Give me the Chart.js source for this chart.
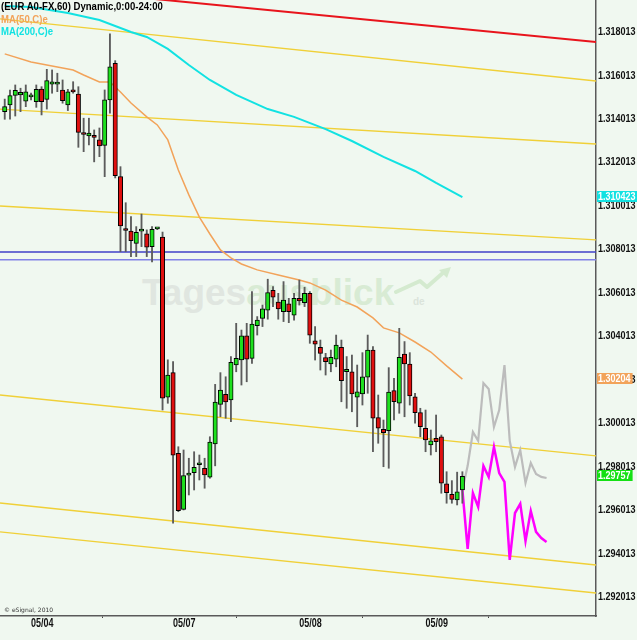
<!DOCTYPE html>
<html>
<head>
<meta charset="utf-8">
<title>EUR A0-FX,60</title>
<script src="https://cdn.jsdelivr.net/npm/chart.js@4.4.1/dist/chart.umd.min.js"></script>
<style>
  html, body { margin: 0; padding: 0; background: #f0f8f0; }
  .chart-wrap { position: relative; width: 637px; height: 640px; overflow: hidden; }
  .chart-wrap canvas { position: absolute; left: 0; top: 0; z-index: 1; }
  .watermark { position: absolute; left: 142px; top: 274px; z-index: 0; white-space: nowrap;
    font: bold 37px/37px "Liberation Sans", Arial, sans-serif; }
  .watermark__a { color: #e0e6e0; }
  .watermark__b { color: #d8ebd4; }
  .watermark__tld { position: absolute; left: 271px; top: 23px; color: #dbe4db;
    font: bold 10px/10px "Liberation Sans", Arial, sans-serif; }
  .watermark__arrow { position: absolute; left: 252px; top: -8px; }
  /* eSignal uses a narrow bold face; squeeze Liberation Sans to match */
  .caption { position: absolute; left: 1px; z-index: 2; white-space: nowrap;
    font: bold 11px/12px "Liberation Sans", Arial, sans-serif;
    transform: scaleX(0.87); transform-origin: 0 0; }
  .copyright { position: absolute; left: 4px; top: 606px; z-index: 2; color: #333;
    font: 6px/7px "DejaVu Sans", sans-serif; }
</style>
</head>
<body>
<div class="chart-wrap">
  <div class="watermark">
    <span class="watermark__a">Tages</span><span class="watermark__b">ausblick</span>
    <span class="watermark__tld">de</span>
    <svg class="watermark__arrow" width="60" height="32" viewBox="0 0 60 32">
      <polyline points="2,26 26,15 33,21 50,6" fill="none" stroke="#d4eacf" stroke-width="4" stroke-linecap="round" stroke-linejoin="round"/>
      <polygon points="57,1 45,4 53,12" fill="#d4eacf"/>
    </svg>
  </div>
  <canvas id="fx-chart" width="637" height="640"></canvas>
  <div class="caption" style="top:0;color:#000">(EUR A0-FX,60) Dynamic,0:00-24:00</div>
  <div class="caption" style="top:12.5px;color:#f2a35a">MA(50,C)e</div>
  <div class="caption" style="top:25px;color:#12e2e2">MA(200,C)e</div>
  <div class="copyright">© eSignal, 2010</div>
</div>
<script>
// hourly candles, oldest first (index 0 = first bar on the left)
const candleOpen = [
  1.31435, 1.31466, 1.31510, 1.31512, 1.31483, 1.31503, 1.31481, 1.31539, 1.31492, 1.31562,
  1.31562, 1.31535, 1.31466, 1.31532, 1.31516, 1.31335, 1.31323, 1.31326, 1.31305, 1.31280,
  1.31489, 1.31658, 1.31136, 1.30893, 1.30886, 1.30829, 1.30885, 1.30873, 1.30814, 1.30896,
  1.30858, 1.30121, 1.30234, 1.29863, 1.29605, 1.29762, 1.29774, 1.29810, 1.29794, 1.29753,
  1.29906, 1.30088, 1.30134, 1.30108, 1.30269, 1.30292, 1.30403, 1.30300, 1.30450, 1.30484,
  1.30522, 1.30613, 1.30559, 1.30515, 1.30551, 1.30499, 1.30576, 1.30556, 1.30599, 1.30380,
  1.30351, 1.30303, 1.30274, 1.30296, 1.30351, 1.30239, 1.30238, 1.30121, 1.30136, 1.30213,
  1.30338, 1.30027, 1.29973, 1.29967, 1.30151, 1.30093, 1.30320, 1.30273, 1.30123, 1.30050,
  1.29978, 1.29901, 1.29932, 1.29939, 1.29722, 1.29674, 1.29648, 1.29694
];
const candleHigh = [
  1.31493, 1.31535, 1.31558, 1.31543, 1.31558, 1.31521, 1.31558, 1.31550, 1.31630, 1.31627,
  1.31612, 1.31581, 1.31538, 1.31573, 1.31550, 1.31405, 1.31405, 1.31351, 1.31360, 1.31535,
  1.31793, 1.31670, 1.31182, 1.31016, 1.30952, 1.30906, 1.30964, 1.30891, 1.30906, 1.30900,
  1.30881, 1.30293, 1.30285, 1.29893, 1.29878, 1.29840, 1.29870, 1.29855, 1.29840, 1.29939,
  1.30180, 1.30234, 1.30215, 1.30308, 1.30461, 1.30430, 1.30461, 1.30607, 1.30492, 1.30545,
  1.30664, 1.30630, 1.30599, 1.30653, 1.30576, 1.30599, 1.30660, 1.30627, 1.30607, 1.30446,
  1.30384, 1.30323, 1.30338, 1.30407, 1.30384, 1.30308, 1.30315, 1.30269, 1.30326, 1.30407,
  1.30354, 1.30131, 1.30016, 1.30257, 1.30208, 1.30438, 1.30377, 1.30326, 1.30139, 1.30070,
  1.30062, 1.29970, 1.30039, 1.29947, 1.29778, 1.29737, 1.29776, 1.29778
];
const candleLow = [
  1.31400, 1.31400, 1.31415, 1.31435, 1.31458, 1.31489, 1.31455, 1.31420, 1.31447, 1.31520,
  1.31527, 1.31474, 1.31440, 1.31520, 1.31271, 1.31251, 1.31282, 1.31204, 1.31228, 1.31136,
  1.31428, 1.31130, 1.30791, 1.30791, 1.30768, 1.30768, 1.30814, 1.30768, 1.30743, 1.30892,
  1.30062, 1.30093, 1.29541, 1.29594, 1.29602, 1.29671, 1.29694, 1.29740, 1.29702, 1.29748,
  1.29805, 1.30031, 1.30024, 1.30008, 1.30238, 1.30177, 1.30192, 1.30277, 1.30407, 1.30446,
  1.30480, 1.30538, 1.30480, 1.30469, 1.30464, 1.30476, 1.30545, 1.30538, 1.30369, 1.30292,
  1.30246, 1.30223, 1.30238, 1.30261, 1.30100, 1.30070, 1.30054, 1.29985, 1.30085, 1.30139,
  1.29870, 1.29909, 1.29801, 1.29794, 1.30016, 1.30047, 1.30031, 1.30085, 1.30001, 1.29939,
  1.29870, 1.29855, 1.29870, 1.29679, 1.29633, 1.29633, 1.29625, 1.29633
];
const candleClose = [
  1.31458, 1.31509, 1.31533, 1.31524, 1.31526, 1.31504, 1.31538, 1.31481, 1.31578, 1.31572,
  1.31563, 1.31486, 1.31526, 1.31526, 1.31340, 1.31330, 1.31336, 1.31316, 1.31277, 1.31489,
  1.31642, 1.31140, 1.30909, 1.30888, 1.30841, 1.30880, 1.30886, 1.30811, 1.30894, 1.30897,
  1.30116, 1.30223, 1.29854, 1.29599, 1.29760, 1.29763, 1.29798, 1.29811, 1.29763, 1.29915,
  1.30099, 1.30154, 1.30099, 1.30282, 1.30300, 1.30403, 1.30296, 1.30457, 1.30476, 1.30528,
  1.30602, 1.30581, 1.30527, 1.30568, 1.30515, 1.30576, 1.30564, 1.30599, 1.30407, 1.30365,
  1.30323, 1.30285, 1.30305, 1.30361, 1.30197, 1.30249, 1.30136, 1.30146, 1.30215, 1.30338,
  1.30024, 1.29978, 1.29958, 1.30144, 1.30100, 1.30305, 1.30274, 1.30127, 1.30050, 1.29985,
  1.29924, 1.29920, 1.29916, 1.29725, 1.29682, 1.29651, 1.29686, 1.29757
];

const dayTickIndex = [5, 32, 56, 80];
const dayLabels = ["05/04", "05/07", "05/08", "05/09"];
const priceTicks = [
  1.292013, 1.294013, 1.296013, 1.298013, 1.300013, 1.302013, 1.304013,
  1.306013, 1.308013, 1.310013, 1.312013, 1.314013, 1.316013, 1.318013
];

// moving averages, read at the listed bar indexes
const ma50Index = [0, 5, 10, 13, 15, 18, 20, 22, 24, 27, 29, 31, 33, 35, 37, 39, 41, 43, 45, 48, 52, 56, 58, 61, 64, 67, 70, 72, 75, 78, 81, 84, 87];
const ma50Values = [
  1.31701, 1.31664, 1.31641, 1.31627, 1.31604, 1.31572, 1.31572, 1.31526, 1.31475, 1.31411,
  1.31374, 1.31305, 1.31167, 1.31052, 1.30950, 1.30872, 1.30799, 1.30762, 1.30734, 1.30707,
  1.30683, 1.30660, 1.30647, 1.30614, 1.30568, 1.30536, 1.30486, 1.30440, 1.30417, 1.30375,
  1.30329, 1.30265, 1.30204
];
const ma200Index = [0, 5, 12, 18, 24, 27, 31, 35, 39, 44, 50, 55, 61, 66, 72, 78, 82, 87];
const ma200Values = [
  1.31921, 1.31917, 1.31889, 1.31857, 1.31802, 1.31779, 1.31724, 1.31650, 1.31581, 1.31512,
  1.31447, 1.31411, 1.31355, 1.31300, 1.31227, 1.31162, 1.31107, 1.310423
];

// projected paths after the last bar
const projIndex = [87, 88, 89, 90, 91, 92, 93, 94, 95, 96, 97, 98, 99, 100, 101, 102, 103];
const projGrey = [
  1.29694, 1.29805, 1.29961, 1.29920, 1.30186, 1.30159, 1.29984, 1.30062, 1.30269,
  1.29920, 1.29800, 1.29878, 1.29726, 1.29818, 1.29768, 1.29754, 1.29749
];
const projMagenta = [
  1.29694, 1.29423, 1.29680, 1.29616, 1.29805, 1.29754, 1.29892, 1.29772, 1.29731,
  1.29372, 1.29588, 1.29630, 1.29459, 1.29597, 1.29501, 1.29473, 1.29455
];

// drawn lines: price at the left edge and at the right edge of the plot
const channelStart = [1.31862, 1.31447, 1.31001, 1.30131, 1.29634, 1.29501];
const channelEnd = [1.31576, 1.31286, 1.30845, 1.29851, 1.29349, 1.29220];
const resistanceStart = [1.32023];
const resistanceEnd = [1.31756];
const blueLevels = [1.30789, 1.30753];

(function () {
  const X_MIN = -0.9;
  const X_MAX = 112.4;
  const Y_MIN = 1.29114;
  const Y_MAX = 1.31949;
  const FACE = '"Liberation Sans", Arial, sans-serif';
  const UP_FILL = "#1ee01e";
  const DOWN_FILL = "#e01010";

  function points(index, values) {
    return index.map(function (x, i) { return { x: x, y: values[i] }; });
  }

  function straight(from, to) {
    return [{ x: X_MIN, y: from }, { x: X_MAX, y: to }];
  }

  function lineSet(data, color, width, order) {
    return {
      type: "line",
      data: data,
      borderColor: color,
      borderWidth: width,
      pointRadius: 0,
      tension: 0,
      fill: false,
      order: order,
    };
  }

  // no narrow face installed, so squeeze the text horizontally
  function narrowText(ctx, text, x, y, squeeze) {
    ctx.save();
    ctx.translate(x, y);
    ctx.scale(squeeze, 1);
    ctx.fillText(text, 0, 0);
    ctx.restore();
  }

  const bars = candleOpen.map(function (_, i) { return i; });

  const datasets = [
    {
      type: "bar",
      data: bars.map(function (i) { return { x: i, y: [candleOpen[i], candleClose[i]] }; }),
      backgroundColor: bars.map(function (i) {
        return candleClose[i] >= candleOpen[i] ? UP_FILL : DOWN_FILL;
      }),
      borderColor: "#000",
      borderWidth: 1,
      borderSkipped: false,
      barThickness: 4.4,
      minBarLength: 2,
      grouped: false,
      order: 0,
    },
    {
      type: "bar",
      data: bars.map(function (i) { return { x: i, y: [candleLow[i], candleHigh[i]] }; }),
      backgroundColor: "#5c5c5c",
      barThickness: 1.2,
      grouped: false,
      order: 1,
    },
    lineSet(points(projIndex, projGrey), "#bcbcbc", 2.2, 2),
    lineSet(points(projIndex, projMagenta), "#ff00ff", 2.5, 2),
    lineSet(points(ma50Index, ma50Values), "#f2a35a", 1.5, 3),
    lineSet(points(ma200Index, ma200Values), "#12e2e2", 2, 3),
  ];

  channelStart.forEach(function (v, i) {
    datasets.push(lineSet(straight(v, channelEnd[i]), "#f0d038", 1.4, 4));
  });
  resistanceStart.forEach(function (v, i) {
    datasets.push(lineSet(straight(v, resistanceEnd[i]), "#e8141c", 2, 4));
  });
  datasets.push(lineSet(straight(blueLevels[0], blueLevels[0]), "#4040c8", 1.5, 4));
  datasets.push(lineSet(straight(blueLevels[1], blueLevels[1]), "#8282e6", 1.5, 4));

  // price and date labels, then the last-value markers on the price axis
  const axisLabels = {
    id: "axisLabels",
    afterDraw: function (chart) {
      const ctx = chart.ctx;
      const xs = chart.scales.x;
      const ys = chart.scales.y;
      const area = chart.chartArea;

      ctx.save();
      ctx.fillStyle = "#111";
      ctx.textAlign = "left";
      ctx.textBaseline = "middle";
      ctx.font = "bold 11px " + FACE;
      priceTicks.forEach(function (v) {
        narrowText(ctx, v.toFixed(6), area.right + 2, ys.getPixelForValue(v), 0.82);
      });

      ctx.font = "bold 12.5px " + FACE;
      dayTickIndex.forEach(function (v, i) {
        narrowText(ctx, dayLabels[i], xs.getPixelForValue(v), area.bottom + 8, 0.72);
      });

      const marks = [
        { value: ma200Values[ma200Values.length - 1], digits: 6, fill: "#12e2e2" },
        { value: ma50Values[ma50Values.length - 1], digits: 5, fill: "#f2a35a" },
        { value: candleClose[candleClose.length - 1], digits: 5, fill: "#14e014" },
      ];
      ctx.font = "bold 11px " + FACE;
      marks.forEach(function (m) {
        const text = m.value.toFixed(m.digits);
        const py = Math.round(ys.getPixelForValue(m.value));
        const w = ctx.measureText(text).width * 0.82 + 3;
        ctx.fillStyle = m.fill;
        ctx.fillRect(area.right + 1, py - 6, w, 11);
        ctx.fillStyle = "#fff";
        narrowText(ctx, text, area.right + 2, py, 0.82);
      });
      ctx.restore();
    },
  };

  new Chart(document.getElementById("fx-chart"), {
    type: "bar",
    data: { datasets: datasets },
    plugins: [axisLabels],
    options: {
      responsive: false,
      animation: false,
      devicePixelRatio: 1,
      layout: { padding: 0 },
      plugins: { legend: { display: false }, tooltip: { enabled: false } },
      scales: {
        x: {
          type: "linear",
          min: X_MIN,
          max: X_MAX,
          offset: false,
          afterBuildTicks: function (scale) {
            scale.ticks = dayTickIndex.map(function (v) { return { value: v }; });
          },
          afterFit: function (scale) {
            scale.height = 24;
            scale.paddingLeft = 0;
            scale.paddingRight = 0;
          },
          ticks: { display: false, autoSkip: false, maxRotation: 0 },
          grid: { display: true, drawOnChartArea: false, drawTicks: true, tickLength: 2, color: "#444" },
          border: { display: true, color: "#5a5a5a", width: 1.5 },
        },
        y: {
          type: "linear",
          position: "right",
          min: Y_MIN,
          max: Y_MAX,
          afterBuildTicks: function (scale) {
            scale.ticks = priceTicks.map(function (v) { return { value: v }; });
          },
          afterFit: function (scale) {
            scale.width = 41;
            scale.paddingTop = 0;
            scale.paddingBottom = 0;
          },
          ticks: { display: false },
          grid: { display: false, drawTicks: false },
          border: { display: true, color: "#5a5a5a", width: 1.5 },
        },
      },
    },
  });
})();
</script>
</body>
</html>
